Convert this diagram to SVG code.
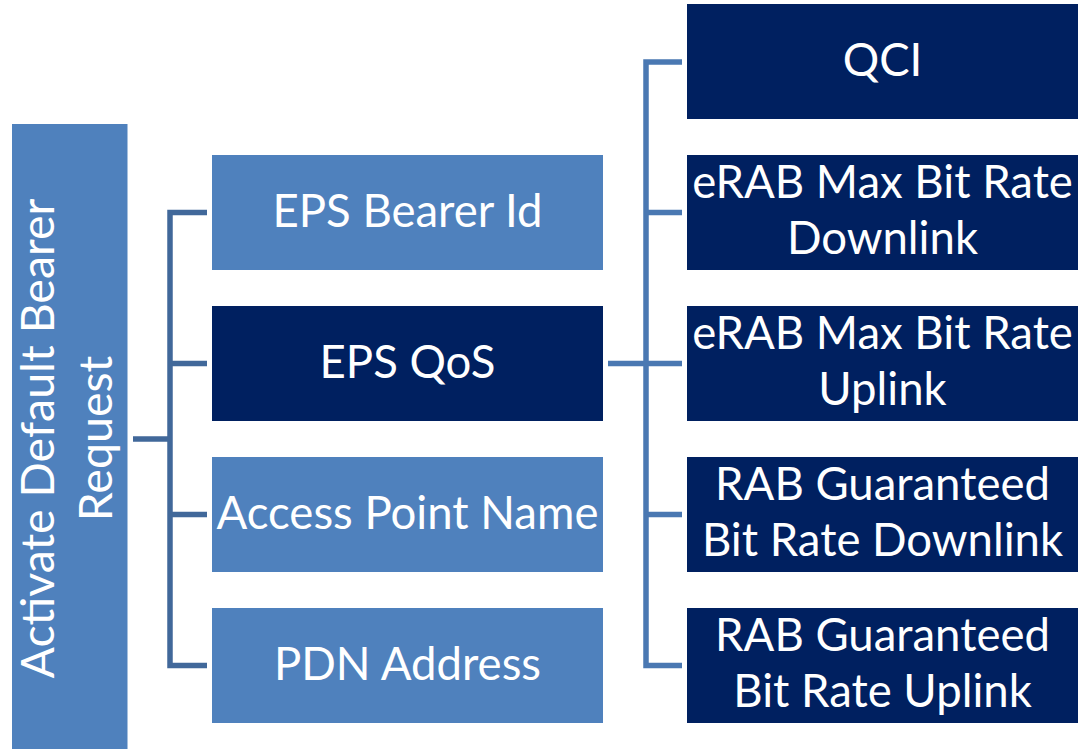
<svg xmlns="http://www.w3.org/2000/svg" width="1086" height="749" viewBox="0 0 1086 749">
<style>
.lt{fill:#4F81BD}
.dk{fill:#002060}
.t{fill:#fff;font-family:Lato,"Open Sans","Liberation Sans",sans-serif;font-size:45.5px;text-anchor:middle}
.cl{fill:none;stroke:#41689A;stroke-width:5.5;stroke-linejoin:miter}
.cr{fill:none;stroke:#4A78B2;stroke-width:5.5;stroke-linejoin:miter}
</style>
<rect width="1086" height="749" fill="#fff"/>
<g id="connectors">
<path class="cl" d="M133,439 H170 M207,212.5 H170 V665.5 H207 M170,363.5 H207 M170,514.5 H207"/>
<path class="cr" d="M608,363.5 H646 M682,62 H646 V665.5 H682 M646,212.5 H682 M646,363.5 H682 M646,514.5 H682"/>
</g>
<g id="root">
<rect class="lt" x="12" y="124" width="115.5" height="640"/>
<text class="t" style="font-size:46.5px" transform="translate(69.75,438.5) rotate(-90)"><tspan x="0" y="-15.75">Activate Default Bearer</tspan><tspan x="0" y="42.25">Request</tspan></text>
</g>
<g id="eps-bearer-id">
<rect class="lt" x="212" y="155" width="391" height="115"/>
<text class="t" x="407.5" y="227">EPS Bearer Id</text>
</g>
<g id="eps-qos">
<rect class="dk" x="212" y="306" width="391" height="115"/>
<text class="t" x="407.5" y="378">EPS QoS</text>
</g>
<g id="apn">
<rect class="lt" x="212" y="457" width="391" height="115"/>
<text class="t" x="407.5" y="529">Access Point Name</text>
</g>
<g id="pdn-address">
<rect class="lt" x="212" y="608" width="391" height="115"/>
<text class="t" x="407.5" y="680">PDN Address</text>
</g>
<g id="qci">
<rect class="dk" x="687" y="4" width="391" height="115"/>
<text class="t" x="882.5" y="76">QCI</text>
</g>
<g id="mbr-dl">
<rect class="dk" x="687" y="155" width="391" height="115"/>
<text class="t"><tspan x="882.5" y="197.7">eRAB Max Bit Rate</tspan><tspan x="882.5" y="254">Downlink</tspan></text>
</g>
<g id="mbr-ul">
<rect class="dk" x="687" y="306" width="391" height="115"/>
<text class="t"><tspan x="882.5" y="348.7">eRAB Max Bit Rate</tspan><tspan x="882.5" y="405">Uplink</tspan></text>
</g>
<g id="gbr-dl">
<rect class="dk" x="687" y="457" width="391" height="115"/>
<text class="t"><tspan x="882.5" y="499.7">RAB Guaranteed</tspan><tspan x="882.5" y="556">Bit Rate Downlink</tspan></text>
</g>
<g id="gbr-ul">
<rect class="dk" x="687" y="608" width="391" height="115"/>
<text class="t"><tspan x="882.5" y="650.7">RAB Guaranteed</tspan><tspan x="882.5" y="707">Bit Rate Uplink</tspan></text>
</g>
</svg>
